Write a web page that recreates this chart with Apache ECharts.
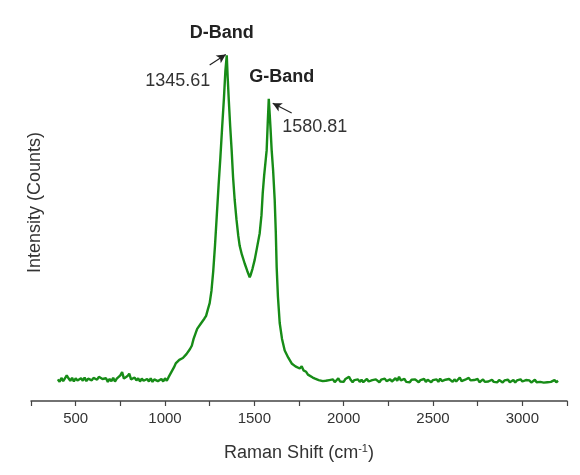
<!DOCTYPE html>
<html>
<head>
<meta charset="utf-8">
<script src="https://cdn.jsdelivr.net/npm/echarts@6/dist/echarts.min.js"></script>
<style>
  html, body { margin: 0; padding: 0; background: #ffffff; }
  #chart { width: 580px; height: 475px; }
</style>
</head>
<body>
<div id="chart"></div>
<script>
// Raman spectrum: Raman shift (cm^-1) vs intensity (counts, arbitrary units)
const lowShift = [400,410,420,430,440,450,460,470,480,490,500,510,520,530,540,550,560,570,580,590,
  600,610,620,630,640,650,660,670,680,690,700,710,720,730,740,750,760,770,780,790,
  800,810,820,830,840,850,860,870,880,890,900,910,920,930,940,950,960,970,980,990,1000,1010,1020];
const lowCounts = [60,53,64,55,63,71,63,56,64,54,63,57,53,63,56,65,55,62,66,57,
  64,68,59,67,72,61,56,63,53,61,55,64,54,62,66,71,80,62,58,69,
  76,60,56,65,57,63,54,62,56,52,61,54,63,53,60,64,55,51,61,54,63,56,66];

const bandShift = [1030,1040,1050,1060,1070,1080,1090,1100,1110,1120,1130,1140,1150,1160,1170,1180,1190,1200,
  1210,1220,1230,1240,1250,1260,1270,1280,1290,1300,1310,1320,1330,1338,1345.61,1351,1357,1365,1373,1381,1390,
  1400,1410,1418,1430,1446,1460,1474,1480,1490,1502,1515,1530,1540,1547,1555,1562,1569,1575,1580.81,1586,1591,
  1597,1605,1614,1620,1625,1632,1642,1655,1670,1690,1709,1720,1730,1740,1754,1765,1775,1790,1800,1810,1827,
  1840,1850,1860,1870,1883,1890];
const bandCounts = [70,84,93,104,107,114,109,119,121,130,134,144,153,172,186,200,204,214,
  217,228,236,254,271,305,360,432,515,598,675,760,840,915,958,895,834,760,695,620,557,
  503,458,430,406,381,361,343,350,367,391,425,465,515,576,625,660,695,770,837,795,752,
  695,640,557,470,371,290,216,172,140,120,104,102,96,93,90,96,85,81,73,71,65,
  62,58,58,61,55,59];

const highShift = [1900,1910,1920,1930,1940,1950,1960,1970,1980,1990,2000,2010,2020,2030,2040,2050,2060,2070,2080,2090,
  2100,2110,2120,2130,2140,2150,2160,2170,2180,2190,2200,2210,2220,2230,2240,2250,2260,2270,2280,2290,
  2300,2310,2320,2330,2340,2350,2360,2370,2380,2390,2400,2410,2420,2430,2440,2450,2460,2470,2480,2490,
  2500,2510,2520,2530,2540,2550,2560,2570,2580,2590,2600,2610,2620,2630,2640,2650,2660,2670,2680,2690,
  2700,2710,2720,2730,2740,2750,2760,2770,2780,2790,2800,2810,2820,2830,2840,2850,2860,2870,2880,2890,
  2900,2910,2920,2930,2940,2950,2960,2970,2980,2990,3000,3010,3020,3030,3040,3050,3060,3070,3080,3090,
  3100,3110,3120,3130,3140,3150,3160,3170,3180,3190,3200];
const highCounts = [56,51,58,53,60,52,57,63,54,59,53,61,56,67,58,52,58,54,60,53,
  59,52,57,61,54,51,58,53,60,55,52,59,54,62,55,53,60,54,59,63,
  56,67,57,54,61,53,58,52,59,54,60,55,52,58,54,61,53,59,55,52,
  58,54,60,53,62,55,52,59,54,61,56,53,60,54,58,65,55,52,59,54,
  64,57,53,58,54,61,52,57,60,53,58,54,51,59,53,57,52,58,54,51,
  57,53,59,52,56,58,51,57,53,60,54,52,58,53,57,51,56,59,52,57,
  53,58,51,56,52,57,53,51,58,52,56];

const shift = lowShift.concat(bandShift, highShift);
const counts = lowCounts.concat(bandCounts, highCounts);
const spectrum = shift.map((s, i) => [s, counts[i]]);

// Band positions and their labels
const bandNames = ['D-Band', 'G-Band'];
const bandPeaks = [[1345.61, 958], [1580.81, 837]];
// arrow tails (start) and heads (end) pointing at each peak
const arrowTails = [[1250, 931], [1709, 798]];
const arrowHeads = [[1340, 960], [1603, 825]];

const chart = echarts.init(document.getElementById('chart'), null, { renderer: 'canvas' });

const font = 'Liberation Sans, Arial, Helvetica, sans-serif';
const ink = '#333333';

const peakMarks = [];
bandPeaks.forEach((p, i) => {
  const isD = i === 0;
  // band name above the peak
  peakMarks.push({
    coord: p, symbol: 'circle', symbolSize: 0,
    label: {
      show: true, formatter: bandNames[i],
      fontFamily: font, fontSize: 18, fontWeight: 'bold', color: '#222',
      align: 'center', verticalAlign: 'middle', position: 'inside',
      offset: isD ? [-5, -22] : [13, -22]
    }
  });
  // shift value next to the peak
  peakMarks.push({
    coord: p, symbol: 'circle', symbolSize: 0,
    label: {
      show: true, formatter: p[0].toFixed(2),
      fontFamily: font, fontSize: 18, color: ink,
      align: 'center', verticalAlign: 'middle', position: 'inside',
      offset: isD ? [-49, 26] : [46, 28]
    }
  });
});

const arrows = arrowTails.map((t, i) => [
  { coord: t, symbol: 'none' },
  { coord: arrowHeads[i], symbol: 'arrow', symbolSize: [7, 9] }
]);

chart.setOption({
  backgroundColor: '#ffffff',
  animation: false,
  grid: { left: 31, right: 13, top: 4, bottom: 74 },
  xAxis: {
    type: 'value',
    min: 250, max: 3250, interval: 250,
    axisLine: { show: true, lineStyle: { color: '#444', width: 1.5 } },
    axisTick: { show: true, inside: false, length: 5, lineStyle: { color: '#444', width: 1.2 } },
    axisLabel: {
      fontFamily: font, fontSize: 15, color: ink, margin: 10,
      formatter: v => (v % 500 === 0 ? String(v) : '')
    },
    splitLine: { show: false },
    name: '{a|Raman Shift (cm}{sup|-1}{a|)}',
    nameLocation: 'middle', nameGap: 42,
    nameTextStyle: {
      rich: {
        a: { fontFamily: font, fontSize: 18, color: ink },
        sup: { fontFamily: font, fontSize: 11, color: ink, padding: [0, 0, 10, 0] }
      }
    }
  },
  yAxis: {
    type: 'value',
    min: 0, max: 1100,
    axisLine: { show: false },
    axisTick: { show: false },
    axisLabel: { show: false },
    splitLine: { show: false },
    name: 'Intensity (Counts)',
    nameLocation: 'middle', nameGap: -13, nameRotate: 90,
    nameTextStyle: { fontFamily: font, fontSize: 18, color: ink }
  },
  series: [{
    type: 'line',
    data: spectrum,
    showSymbol: false,
    smooth: false,
    lineStyle: { color: '#178c17', width: 2.4 },
    itemStyle: { color: '#178c17' },
    markPoint: { silent: true, data: peakMarks },
    markLine: {
      silent: true,
      symbol: ['none', 'arrow'],
      lineStyle: { color: '#222', width: 1.2, type: 'solid' },
      label: { show: false },
      data: arrows
    }
  }]
});
</script>
</body>
</html>
